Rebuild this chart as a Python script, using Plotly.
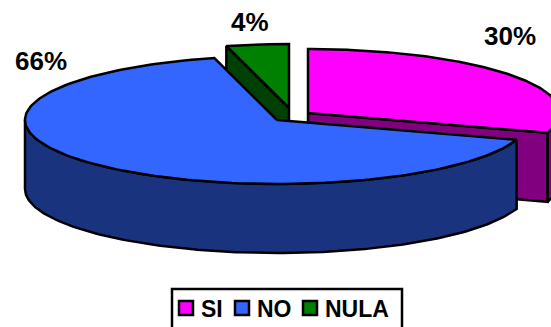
import numpy as np
import plotly.graph_objects as go

categories = ["SI", "NO", "NULA"]
values = [30, 66, 4]
top_colors = ["#ff00ff", "#3366ff", "#008000"]
wall_colors = ["#800080", "#1a337f", "#004000"]

# Pie geometry in the pixel-like axis units of the plot
RX, RY, DEPTH = 252, 64, 69
LINE_W = 2.5
centers = {"SI": (308, 113), "NO": (277, 120), "NULA": (289, 108)}
label_pos = {"SI": (510, 36), "NO": (41, 61), "NULA": (250, 22)}
legend_key_x = {"SI": 186, "NO": 242, "NULA": 310}
legend_text_x = {"SI": 199, "NO": 255, "NULA": 323}
LEGEND_Y = 308

ends = np.cumsum(values) / sum(values) * 360
starts = np.concatenate([[0], ends[:-1]])


def arc(cx, cy, a0, a1, dy=0):
    t = np.radians(np.linspace(a0, a1, 180))
    return cx + RX * np.sin(t), cy - RY * np.cos(t) + dy


def poly(fig, xs, ys, color):
    fig.add_trace(go.Scatter(
        x=list(xs) + [xs[0]], y=list(ys) + [ys[0]], mode="lines", fill="toself",
        fillcolor=color, line=dict(color="black", width=LINE_W, shape="linear"),
        hoverinfo="skip", showlegend=False))


def wall(fig, cx, cy, a0, a1, color):
    x, y = arc(cx, cy, a0, a1)
    xd, yd = arc(cx, cy, a0, a1, DEPTH)
    poly(fig, np.concatenate([x, xd[::-1]]), np.concatenate([y, yd[::-1]]), color)


def cut_face(fig, cx, cy, a, color):
    ex, ey = arc(cx, cy, a, a)
    ex, ey = ex[0], ey[0]
    poly(fig, [cx, ex, ex, cx], [cy, ey, ey + DEPTH, cy + DEPTH], color)


def top(fig, cx, cy, a0, a1, color):
    x, y = arc(cx, cy, a0, a1)
    poly(fig, np.concatenate([[cx], x]), np.concatenate([[cy], y]), color)


fig = go.Figure()

# back to front: NULA, SI, NO
i = 2
cx, cy = centers[categories[i]]
cut_face(fig, cx, cy, starts[i], wall_colors[i])
top(fig, cx, cy, starts[i], ends[i], top_colors[i])

i = 0
cx, cy = centers[categories[i]]
cut_face(fig, cx, cy, ends[i], wall_colors[i])
wall(fig, cx, cy, 90, ends[i], wall_colors[i])
top(fig, cx, cy, starts[i], ends[i], top_colors[i])

i = 1
cx, cy = centers[categories[i]]
wall(fig, cx, cy, starts[i], 270, wall_colors[i])
top(fig, cx, cy, starts[i], ends[i], top_colors[i])

font = dict(family="Liberation Sans, Arial", size=26, color="black")
for cat, val in zip(categories, values):
    lx, ly = label_pos[cat]
    fig.add_annotation(x=lx, y=ly, text=f"<b>{val}%</b>", showarrow=False,
                       font=font, xanchor="center", yanchor="middle")

# legend
fig.add_shape(type="rect", x0=172, x1=402, y0=289, y1=335,
              line=dict(color="black", width=2.5), fillcolor="white", layer="below")
for cat, col in zip(categories, top_colors):
    fig.add_trace(go.Scatter(
        x=[legend_key_x[cat]], y=[LEGEND_Y], mode="markers",
        marker=dict(symbol="square", size=14, color=col, line=dict(color="black", width=2.5)),
        hoverinfo="skip", showlegend=False))
    fig.add_annotation(x=legend_text_x[cat], y=LEGEND_Y + 1, text=f"<b>{cat}</b>",
                       showarrow=False, xanchor="left", yanchor="middle",
                       font=dict(family="Liberation Sans, Arial", size=23, color="black"))

fig.update_layout(
    width=551, height=327, autosize=False,
    margin=dict(l=0, r=0, t=0, b=0),
    paper_bgcolor="white", plot_bgcolor="white", showlegend=False,
    xaxis=dict(range=[0, 551], visible=False, fixedrange=True),
    yaxis=dict(range=[327, 0], visible=False, fixedrange=True),
)
fig.write_html("out.html", config=dict(displayModeBar=False),
               post_script="document.body.style.margin='0';document.body.style.overflow='hidden';")
